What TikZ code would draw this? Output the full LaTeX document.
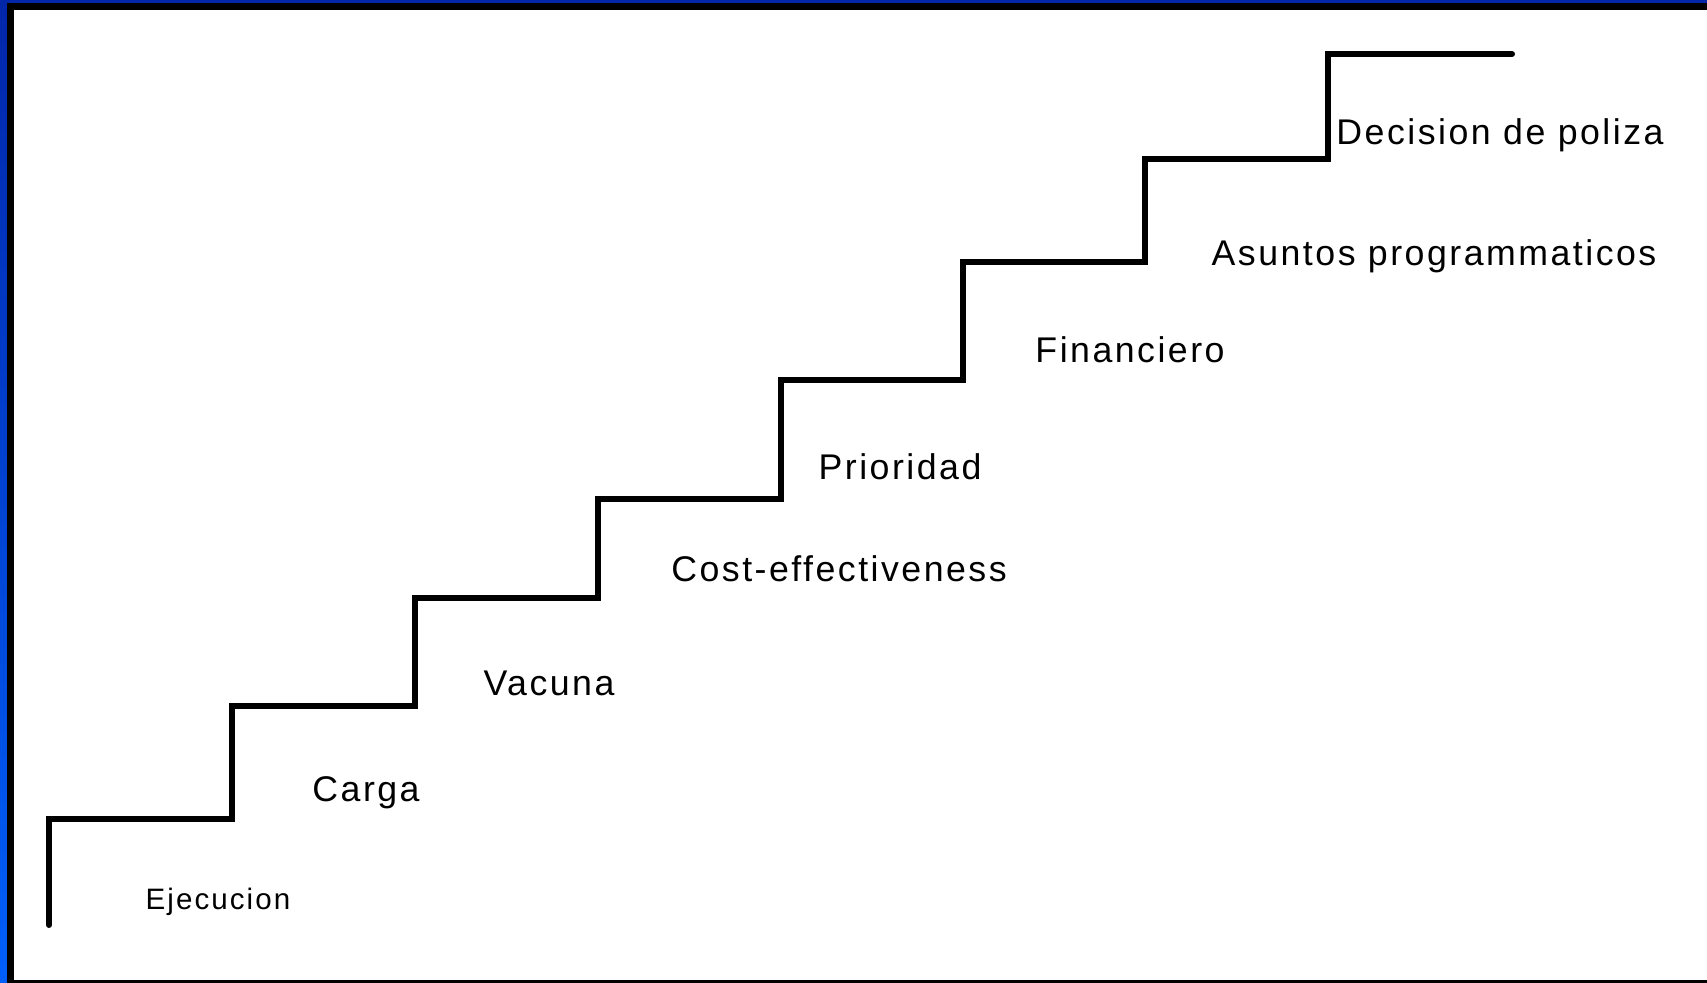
\documentclass[tikz,border=0pt]{standalone}
\usepackage{fontspec}
\setmainfont{Liberation Sans}[LetterSpace=7]
\definecolor{slidetop}{RGB}{0,38,170}
\definecolor{slidebottom}{RGB}{0,95,250}
\begin{document}
\begin{tikzpicture}[x=0.01cm,y=-0.01cm,
	stepname/.style={font=\fontsize{10.15}{12}\selectfont, inner sep=0pt},
	stair/.style={line width=1.7pt, line cap=round, line join=miter}]
	\useasboundingbox (0,0) rectangle (1707,983);
	
	% Slide background and frame
	\shade [top color=slidetop, bottom color=slidebottom] (0,0) rectangle (1707,983);
	\fill [black] (7,3) rectangle (1707,983);
	\fill [white] (14,10) rectangle (1707,980);
	
	% Stairs
	\draw [stair] (49,925) |- (232,819) |- (415,706) |- (598,598) |- (781,499)
		|- (963,380) |- (1145,262) |- (1328,159) |- (1512,54);
	
	% Step labels
	\node [stepname, font=\fontsize{8.4}{10}\selectfont] (ejecucion) at (218,902) {Ejecucion};
	\node [stepname] (carga) at (366,793) {Carga};
	\node [stepname] (vacuna) at (549,683) {Vacuna};
	\node [stepname] (costeff) at (839,569) {Cost-effectiveness};
	\node [stepname] (prioridad) at (900,467) {Prioridad};
	\node [stepname] (financiero) at (1130,350) {Financiero};
	\node [stepname] (asuntos) at (1434,256) {Asuntos programmaticos};
	\node [stepname] (decision) at (1500,135) {Decision de poliza};
\end{tikzpicture}
\end{document}
